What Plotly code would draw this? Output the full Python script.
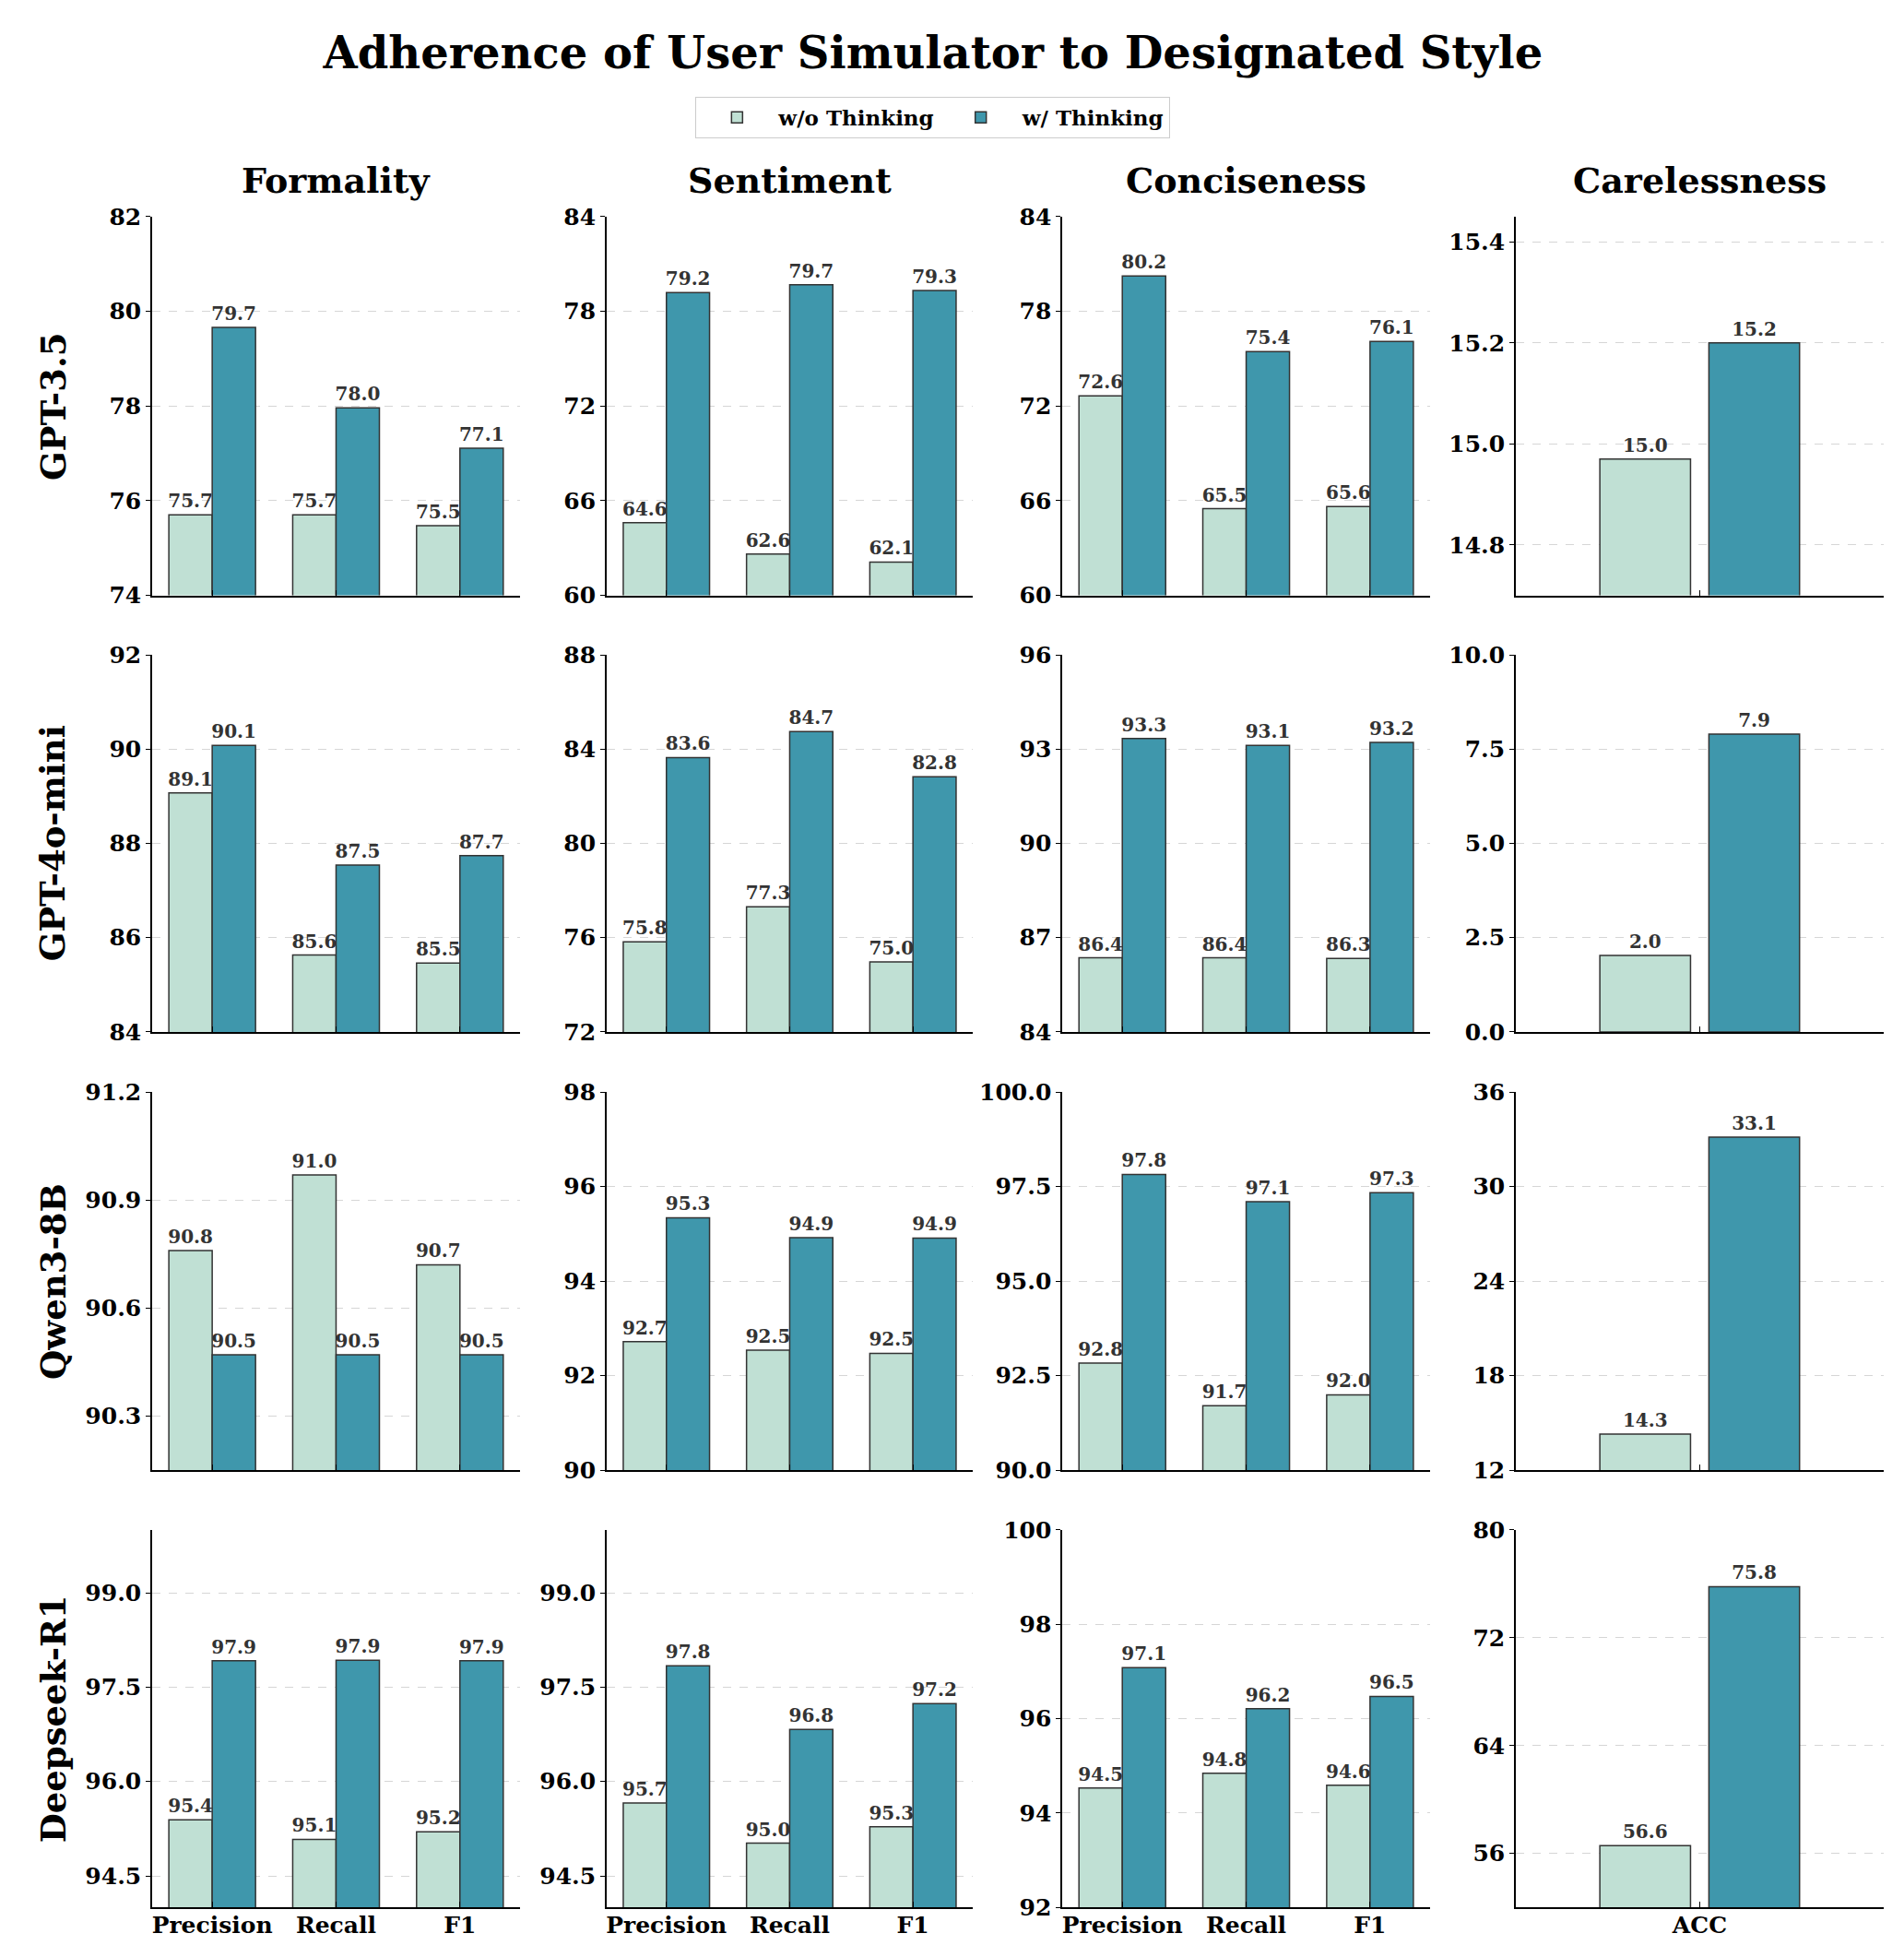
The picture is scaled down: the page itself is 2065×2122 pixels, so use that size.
import plotly.graph_objects as go

# ---------------- data ----------------
models = ["GPT-3.5", "GPT-4o-mini", "Qwen3-8B", "Deepseek-R1"]
styles = ["Formality", "Sentiment", "Conciseness", "Carelessness"]
metrics = ["Precision", "Recall", "F1"]
acc_metric = ["ACC"]
series_names = ["w/o Thinking", "w/ Thinking"]

# rows = models (GPT-3.5, GPT-4o-mini, Qwen3-8B, Deepseek-R1); cols = Precision, Recall, F1
formality_wo = [[75.70, 75.70, 75.47], [89.07, 85.63, 85.46], [90.76, 90.97, 90.72], [95.39, 95.08, 95.20]]
formality_w = [[79.66, 77.96, 77.11], [90.08, 87.54, 87.74], [90.47, 90.47, 90.47], [97.92, 97.93, 97.92]]
sentiment_wo = [[64.60, 62.62, 62.11], [75.82, 77.31, 74.97], [92.72, 92.54, 92.47], [95.66, 95.02, 95.28]]
sentiment_w = [[79.19, 79.68, 79.32], [83.64, 84.74, 82.83], [95.34, 94.92, 94.91], [97.84, 96.83, 97.24]]
conciseness_wo = [[72.64, 65.49, 65.62], [86.36, 86.36, 86.34], [92.83, 91.70, 91.99], [94.53, 94.84, 94.59]]
conciseness_w = [[80.24, 75.44, 76.09], [93.34, 93.12, 93.21], [97.82, 97.10, 97.34], [97.08, 96.21, 96.47]]
carelessness_wo = [14.97, 2.03, 14.29, 56.57]
carelessness_w = [15.20, 7.90, 33.14, 75.79]

# y-axis limits and tick labels per subplot [row][col]
y_ranges = [
    [[74, 82], [60, 84], [60, 84], [14.7, 15.45]],
    [[84, 92], [72, 88], [84, 96], [0, 10]],
    [[90.15, 91.2], [90, 98], [90, 100], [12, 36]],
    [[94, 100], [94, 100], [92, 100], [52, 80]],
]
y_ticks = [
    [[74, 76, 78, 80, 82], [60, 66, 72, 78, 84], [60, 66, 72, 78, 84], [14.8, 15.0, 15.2, 15.4]],
    [[84, 86, 88, 90, 92], [72, 76, 80, 84, 88], [84, 87, 90, 93, 96], [0, 2.5, 5.0, 7.5, 10.0]],
    [[90.3, 90.6, 90.9, 91.2], [90, 92, 94, 96, 98], [90, 92.5, 95, 97.5, 100], [12, 18, 24, 30, 36]],
    [[94.5, 96.0, 97.5, 99.0], [94.5, 96.0, 97.5, 99.0], [92, 94, 96, 98, 100], [56, 64, 72, 80]],
]
y_decimals = [[0, 0, 0, 1], [0, 0, 0, 1], [1, 0, 1, 0], [1, 1, 0, 0]]

# ---------------- styling ----------------
C_WO = "#C0E0D4"
C_W = "#3F97AC"
EDGE = "#333333"
FONT = "DejaVu Serif"

col_domains = [[0.0799, 0.2731], [0.3186, 0.5109], [0.5579, 0.7511], [0.7961, 0.9893]]
row_domains = [[0.6958, 0.8893], [0.4727, 0.6654], [0.2488, 0.4420], [0.0254, 0.2182]]

style_data = {
    "Formality": (formality_wo, formality_w),
    "Sentiment": (sentiment_wo, sentiment_w),
    "Conciseness": (conciseness_wo, conciseness_w),
}

fig = go.Figure()
layout_axes = {}

for r, model in enumerate(models):
    for c, style in enumerate(styles):
        idx = r * 4 + c + 1
        xa = "x" if idx == 1 else f"x{idx}"
        ya = "y" if idx == 1 else f"y{idx}"
        if style == "Carelessness":
            cats = acc_metric
            vals = [[carelessness_wo[r]], [carelessness_w[r]]]
            widths = [0.345, 0.345]
            offsets = [-0.38, 0.035]
            xr = [-0.7, 0.7]
        else:
            cats = metrics
            vals = [style_data[style][0][r], style_data[style][1][r]]
            widths = [0.35, 0.35]
            offsets = [-0.35, 0.0]
            xr = [-0.485, 2.485]
        for s, (name, color) in enumerate(zip(series_names, [C_WO, C_W])):
            fig.add_trace(go.Bar(
                x=cats, y=vals[s], name=name,
                xaxis=xa, yaxis=ya,
                width=widths[s], offset=offsets[s],
                marker=dict(color=color, line=dict(color=EDGE, width=1.5)),
                text=[f"{v:.1f}" for v in vals[s]],
                textposition="outside",
                textfont=dict(family=FONT, size=20, color="#333333", weight="bold"),
                constraintext="none",
                cliponaxis=False,
                showlegend=(idx == 1),
                legendgroup=name,
                hoverinfo="skip",
            ))
        dec = y_decimals[r][c]
        tv = y_ticks[r][c]
        layout_axes["xaxis" + ("" if idx == 1 else str(idx))] = dict(
            domain=col_domains[c], anchor=ya, range=xr, type="category",
            showline=True, linecolor="black", linewidth=2,
            ticks="inside", ticklen=6, tickcolor="black",
            showgrid=False, zeroline=False, automargin=False,
            showticklabels=(r == 3), ticklabelstandoff=-4,
            tickfont=dict(family=FONT, size=25, color="black", weight="bold"),
        )
        layout_axes["yaxis" + ("" if idx == 1 else str(idx))] = dict(
            domain=row_domains[r], anchor=xa, range=y_ranges[r][c],
            tickmode="array", tickvals=tv, ticktext=[f"{v:.{dec}f}" for v in tv],
            showline=True, linecolor="black", linewidth=1.5,
            ticks="outside", ticklen=5, tickcolor="black",
            showgrid=True, gridcolor="#d6d6d6", griddash="dash", gridwidth=1,
            zeroline=False, automargin=False,
            tickfont=dict(family=FONT, size=25, color="black", weight="bold"),
        )

annotations = []
for c, style in enumerate(styles):
    annotations.append(dict(
        text=style, x=sum(col_domains[c]) / 2, y=0.908, xref="paper", yref="paper",
        xanchor="center", yanchor="middle", showarrow=False,
        font=dict(family=FONT, size=38, color="black", weight="bold"),
    ))
for r, model in enumerate(models):
    annotations.append(dict(
        text=model, x=0.028, y=sum(row_domains[r]) / 2, xref="paper", yref="paper",
        xanchor="center", yanchor="middle", showarrow=False, textangle=-90,
        font=dict(family=FONT, size=37, color="black", weight="bold"),
    ))

fig.update_layout(
    width=2065, height=2122,
    margin=dict(l=0, r=0, t=0, b=0, pad=0, autoexpand=False),
    paper_bgcolor="white", plot_bgcolor="white",
    barmode="overlay",
    title=dict(
        text="Adherence of User Simulator to Designated Style",
        x=0.49, xanchor="center", y=0.973, yanchor="middle",
        font=dict(family=FONT, size=48, color="black", weight="bold"),
    ),
    legend=dict(
        orientation="h", x=0.49, xanchor="center", y=0.94, yanchor="middle",
        bordercolor="#cccccc", borderwidth=1, bgcolor="white",
        font=dict(family=FONT, size=23, color="black", weight="bold"),
        itemwidth=80,
    ),
    annotations=annotations,
    **layout_axes,
)

fig.write_html("out.html")
